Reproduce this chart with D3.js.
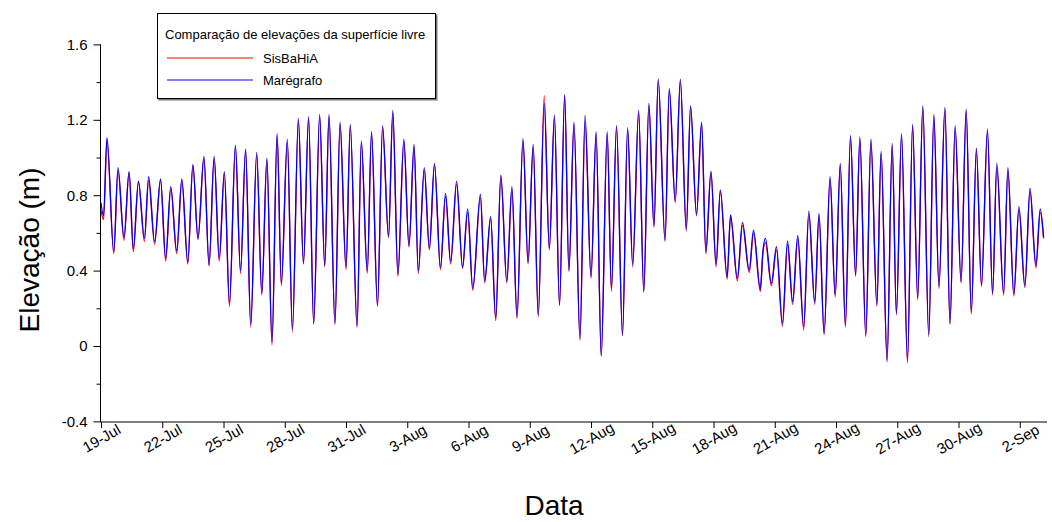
<!DOCTYPE html>
<html>
<head>
<meta charset="utf-8">
<script src="https://cdn.jsdelivr.net/npm/d3@7"></script>
<style>
  body { margin: 0; background: #fff; }
  svg { display: block; }
  text { font-family: "Liberation Sans", Arial, sans-serif; fill: #000; }
</style>
</head>
<body>
<svg id="chart" width="1052" height="522"></svg>
<script>
// Tempo em horas desde 19-Jul 00:00 (preamares e baixa-mares)
const horas = [
  0,3,7,15,20,27,33,38,44,51, 56,63,70,76,82,89,95,102,108,114,
  121,127,133,139,145,151,158,164,170,176, 183,189,195,201,207,212,219,225,232,238,
  244,250,257,263,268,275,281,288,293,301, 306,313,318,325,331,338,343,349,356,362,
  368,373,380,386,392,399,405,411,418,425, 431,437,446,451,458,464,470,477,483,489,
  496,502,508,514,521,527,533,539,545,550, 556,563,569,576,582,588,595,600,606,613,
  619,625,632,638,644,650,655,663,668,675, 681,688,693,700,706,711,717,723,728,736,
  740,748,754,762,767,775,778,781,788,794, 801,807,813,819,826,832,839,844,850,857,
  863,869,875,881,887,892,899,905,912,917, 924,930,935,941,948,954,960,966,973,979,
  985,992,998,1004,1011,1017,1023,1029,1035,1042, 1048,1053,1061,1066,1073,1079,1086,1092,1099,1104,
  1108
];

// Elevação medida pelo marégrafo (m)
const maregrafo = [
  0.76,0.69,1.105,0.50,0.946,0.575,0.925,0.515,0.875,0.571,
  0.898,0.553,0.886,0.465,0.845,0.504,0.886,0.444,0.964,0.571,
  1.006,0.43,1.006,0.465,0.925,0.226,1.066,0.398,1.045,0.115,
  1.027,0.28,0.996,0.02,1.128,0.333,1.098,0.09,1.208,0.439,
  1.217,0.12,1.229,0.426,1.229,0.12,1.187,0.416,1.176,0.106,
  1.088,0.398,1.137,0.214,1.169,0.58,1.25,0.38,1.098,0.532,
  1.07,0.398,0.946,0.518,0.969,0.416,0.81,0.447,0.875,0.42,
  0.727,0.306,0.805,0.345,0.686,0.147,0.907,0.345,0.845,0.156,
  1.10,0.444,1.07,0.164,1.287,0.518,1.225,0.217,1.335,0.403,
  1.187,0.04,1.225,0.368,1.137,-0.051,1.137,0.306,1.169,0.058,
  1.158,0.433,1.25,0.288,1.287,0.638,1.416,0.562,1.367,0.769,
  1.416,0.621,1.275,0.699,1.187,0.50,0.928,0.433,0.828,0.368,
  0.695,0.36,0.656,0.403,0.615,0.302,0.50,0.571,0.333,0.527,
  0.12,0.557,0.235,0.585,0.103,0.716,0.235,0.704,0.067,0.898,
  0.27,0.969,0.111,1.116,0.377,1.109,0.058,1.098,0.221,1.034,
  -0.075,1.075,0.173,1.126,-0.075,1.176,0.256,1.275,0.06,1.229,
  0.315,1.266,0.12,1.169,0.341,1.257,0.179,1.049,0.324,1.151,
  0.28,0.969,0.28,0.946,0.274,0.739,0.32,0.837,0.426,0.727,
  0.577
];

// Elevação calculada pelo SisBaHiA (m)
const sisbahia = [
  0.72,0.67,1.09,0.49,0.93,0.56,0.92,0.50,0.87,0.555,
  0.88,0.54,0.88,0.45,0.835,0.49,0.875,0.435,0.955,0.565,
  0.995,0.425,0.995,0.45,0.915,0.21,1.055,0.385,1.035,0.10,
  1.015,0.27,0.985,0.005,1.115,0.32,1.08,0.075,1.195,0.435,
  1.205,0.115,1.215,0.42,1.215,0.115,1.175,0.405,1.165,0.10,
  1.075,0.385,1.125,0.21,1.155,0.575,1.235,0.37,1.085,0.525,
  1.055,0.385,0.935,0.51,0.96,0.405,0.795,0.435,0.86,0.41,
  0.71,0.295,0.79,0.335,0.675,0.135,0.90,0.335,0.83,0.145,
  1.09,0.435,1.055,0.155,1.328,0.51,1.21,0.215,1.325,0.395,
  1.175,0.03,1.19,0.36,1.125,-0.055,1.125,0.29,1.16,0.055,
  1.145,0.42,1.235,0.285,1.275,0.63,1.405,0.555,1.355,0.76,
  1.405,0.61,1.265,0.69,1.175,0.49,0.92,0.42,0.82,0.355,
  0.685,0.345,0.64,0.39,0.60,0.29,0.49,0.55,0.32,0.51,
  0.105,0.54,0.22,0.57,0.085,0.70,0.22,0.69,0.06,0.885,
  0.26,0.955,0.10,1.105,0.37,1.095,0.05,1.085,0.21,1.02,
  -0.085,1.06,0.165,1.115,-0.09,1.165,0.245,1.26,0.05,1.215,
  0.305,1.255,0.115,1.155,0.335,1.245,0.17,1.035,0.315,1.135,
  0.27,0.95,0.27,0.93,0.265,0.725,0.31,0.82,0.415,0.71,
  0.57
];

// Marcas do eixo das datas (a cada 3 dias)
const tickHoras = [0,72,144,216,288,360,432,504,576,648,720,792,864,936,1008,1080];
const tickDatas = ["19-Jul","22-Jul","25-Jul","28-Jul","31-Jul","3-Aug","6-Aug","9-Aug",
                   "12-Aug","15-Aug","18-Aug","21-Aug","24-Aug","27-Aug","30-Aug","2-Sep"];

// Marcas do eixo das elevações
const yTicksMaiores = [1.6, 1.2, 0.8, 0.4, 0, -0.4];
const yTicksMenores = [1.4, 1.0, 0.6, 0.2, -0.2];

const legendaTitulo = "Comparação de elevações da superfície livre";
const series = [
  { nome: "SisBaHiA", valores: sisbahia, cor: "#ff0000" },
  { nome: "Marégrafo", valores: maregrafo, cor: "#0000ff" }
];

const svg = d3.select("#chart");

const x = d3.scaleLinear().domain([0, 1112]).range([101, 1047]);
const y = d3.scaleLinear().domain([-0.4, 1.6]).range([421.4, 44.4]);

const eixoX0 = 422, eixoY0 = 100.5;

// Séries
const linha = vals => d3.line()
  .x((d, i) => x(horas[i]))
  .y(d => y(d))
  .curve(d3.curveMonotoneX)(vals);

svg.append("g").selectAll("path")
  .data(series)
  .join("path")
  .attr("d", s => linha(s.valores))
  .attr("fill", "none")
  .attr("stroke", s => s.cor)
  .attr("stroke-width", 1.3)
  .attr("stroke-linejoin", "round");

// Eixo Y
const gy = svg.append("g").attr("transform", `translate(${eixoY0},0)`);
gy.call(d3.axisLeft(y).tickValues(yTicksMaiores).tickSize(7).tickPadding(6)
  .tickFormat(d => d === 0 ? "0" : d3.format(".1f")(d).replace("−", "-")));
gy.selectAll(".tick text").style("font-size", "15px").attr("font-family", null);
gy.select(".domain").attr("d", `M0,${y(1.6)}V${eixoX0}`);
gy.selectAll(".tick line").attr("stroke", "#000");
const gyMin = svg.append("g").attr("transform", `translate(${eixoY0},0)`);
gyMin.call(d3.axisLeft(y).tickValues(yTicksMenores).tickSize(4).tickFormat(""));
gyMin.select(".domain").remove();

// Eixo X
const gx = svg.append("g").attr("transform", `translate(0,${eixoX0})`);
gx.call(d3.axisBottom(x).tickValues(tickHoras).tickSize(6).tickFormat((d, i) => tickDatas[i]));
gx.select(".domain").attr("d", `M${eixoY0},0H1047`);
gx.selectAll(".tick text")
  .attr("font-family", null)
  .style("font-size", "15px")
  .attr("text-anchor", "middle")
  .attr("dy", null)
  .attr("y", null)
  .attr("transform", "translate(0,16) rotate(-30)")
  .attr("dominant-baseline", "central");

// Títulos dos eixos
svg.append("text")
  .attr("transform", "translate(39,250) rotate(-90)")
  .attr("text-anchor", "middle")
  .style("font-size", "28px")
  .text("Elevação (m)");

svg.append("text")
  .attr("x", 554).attr("y", 515)
  .attr("text-anchor", "middle")
  .style("font-size", "28px")
  .text("Data");

// Legenda
const leg = svg.append("g");
leg.append("rect").attr("x", 158.5).attr("y", 14.5).attr("width", 279).attr("height", 86).attr("fill", "#777");
leg.append("rect").attr("x", 157.5).attr("y", 13.5).attr("width", 278).attr("height", 85)
  .attr("fill", "#fff").attr("stroke", "#000").attr("stroke-width", 1);
leg.append("text").attr("x", 165).attr("y", 39).style("font-size", "13px").text(legendaTitulo);
leg.selectAll("g.item")
  .data(series)
  .join("g")
  .attr("class", "item")
  .attr("transform", (d, i) => `translate(0,${58 + i * 22})`)
  .each(function (s) {
    const g = d3.select(this);
    g.append("line").attr("x1", 167).attr("x2", 253).attr("y1", 0).attr("y2", 0)
      .attr("stroke", s.cor).attr("stroke-width", 1.2);
    g.append("text").attr("x", 263).attr("y", 5).style("font-size", "13px").text(s.nome);
  });
</script>
</body>
</html>
